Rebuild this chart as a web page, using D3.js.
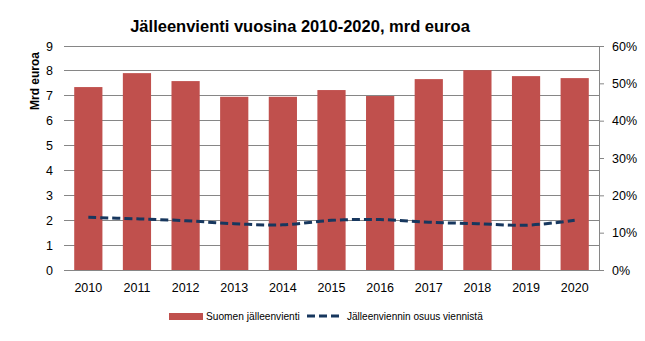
<!DOCTYPE html>
<html><head><meta charset="utf-8">
<script src="https://cdn.jsdelivr.net/npm/d3@7"></script>
<style>body{margin:0;background:#fff;} svg{display:block;}</style>
</head><body>
<svg id="c" width="645" height="341"></svg>
<script>
const years = ["2010","2011","2012","2013","2014","2015","2016","2017","2018","2019","2020"];
const reexport = [7.35,7.91,7.59,6.96,6.96,7.23,6.99,7.67,8.03,7.79,7.71];
const share = [0.141,0.137,0.132,0.124,0.121,0.133,0.135,0.128,0.124,0.120,0.133];
const leftTicks = [0,1,2,3,4,5,6,7,8,9];
const rightTicks = [0,0.1,0.2,0.3,0.4,0.5,0.6];
const title = "Jälleenvienti vuosina 2010-2020, mrd euroa";
const yLabel = "Mrd euroa";
const seriesNames = ["Suomen jälleenvienti","Jälleenviennin osuus viennistä"];

const svg = d3.select("#c");
const font = "'Liberation Sans', Arial, sans-serif";
const L = 64, R = 599, T = 46, B = 270;
const x = d3.scaleBand().domain(years).range([L,R]).paddingInner(0.42).paddingOuter(0.21);
const y = d3.scaleLinear().domain([0,9]).range([B,T]);
const y2 = d3.scaleLinear().domain([0,0.6]).range([B,T]);

function fit(sel, target, size){
  sel.attr("font-size", size);
  const w = sel.node().getComputedTextLength();
  sel.attr("font-size", size*target/w);
}

// gridlines
svg.append("g").selectAll("line").data(leftTicks).join("line")
  .attr("x1",L).attr("x2",R).attr("y1",d=>y(d)).attr("y2",d=>y(d))
  .attr("stroke","#868686").attr("stroke-width",1).attr("shape-rendering","crispEdges");

// bars
svg.append("g").selectAll("rect").data(years).join("rect")
  .attr("x",d=>x(d)).attr("width",x.bandwidth())
  .attr("y",(d,i)=>y(reexport[i])).attr("height",(d,i)=>B-y(reexport[i]))
  .attr("fill","#C0504D");

// left axis labels
const gl = svg.append("g").attr("transform",`translate(${L},0)`)
  .call(d3.axisLeft(y).tickValues(leftTicks).tickSize(0).tickPadding(11));
gl.select(".domain").remove();
gl.selectAll("text").attr("font-family",font).attr("font-size",12.5).attr("fill","#000");

// right axis
const gr = svg.append("g").attr("transform",`translate(${R},0)`)
  .call(d3.axisRight(y2).tickValues(rightTicks).tickFormat(d3.format(".0%")).tickSize(5).tickSizeOuter(0).tickPadding(8));
gr.select(".domain").attr("stroke","#868686");
gr.selectAll(".tick line").attr("stroke","#868686");
gr.selectAll("text").attr("font-family",font).attr("font-size",12.5).attr("fill","#000");

// bottom axis
const gb = svg.append("g").attr("transform",`translate(0,${B})`)
  .call(d3.axisBottom(x).tickSize(0).tickPadding(13));
gb.select(".domain").remove();
gb.selectAll("text").attr("font-family",font).attr("font-size",12.5).attr("fill","#000");

// line
const line = d3.line().x((d,i)=>x(years[i])+x.bandwidth()/2).y(d=>y2(d)).curve(d3.curveCatmullRom.alpha(0.5));
svg.append("path").datum(share).attr("d",line).attr("fill","none")
  .attr("stroke","#17375E").attr("stroke-width",3).attr("stroke-dasharray","8,4");

// title
const t = svg.append("text").attr("x",300).attr("y",32).attr("text-anchor","middle")
  .attr("font-family",font).attr("font-weight","bold").text(title);
fit(t, 340, 17);

// y label
const yl = svg.append("text").attr("transform","translate(39,81) rotate(-90)").attr("text-anchor","middle")
  .attr("font-family",font).attr("font-weight","bold").text(yLabel);
fit(yl, 58, 12);

// legend
const lg = svg.append("g");
lg.append("rect").attr("x",169).attr("y",313).attr("width",34).attr("height",7).attr("fill","#C0504D");
const l1 = lg.append("text").attr("x",206).attr("y",320).attr("font-family",font).text(seriesNames[0]);
fit(l1, 94, 11);
lg.append("line").attr("x1",307).attr("x2",340).attr("y1",316).attr("y2",316)
  .attr("stroke","#17375E").attr("stroke-width",3).attr("stroke-dasharray","8,4");
const l2 = lg.append("text").attr("x",347).attr("y",320).attr("font-family",font).text(seriesNames[1]);
fit(l2, 136, 11);
</script>
</body></html>
